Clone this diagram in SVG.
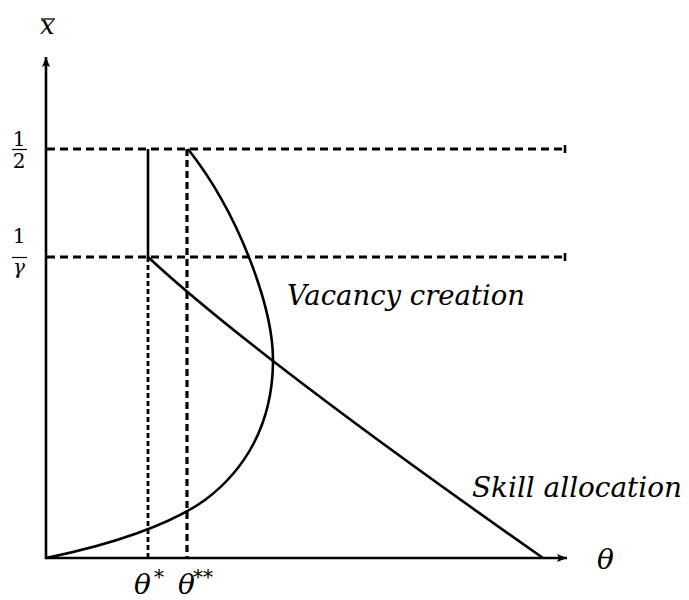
<svg xmlns="http://www.w3.org/2000/svg" width="689" height="600" viewBox="0 0 689 600">
<style>
.ax{stroke:#000;stroke-width:2.6;fill:none}
.ln{stroke:#000;stroke-width:2.6;fill:none}
.dh{stroke:#000;stroke-width:2.8;fill:none;stroke-dasharray:8,5}
.dv1{stroke:#000;stroke-width:2.8;fill:none;stroke-dasharray:5,3}
.dv2{stroke:#000;stroke-width:3.2;fill:none;stroke-dasharray:7,4}
.n{font-size:20px;text-anchor:middle}
</style>
<defs>
<marker id="arr" markerWidth="10" markerHeight="8" refX="10" refY="4" orient="auto" markerUnits="userSpaceOnUse">
<path d="M0,0 L10,4 L0,8 L2,4 Z" fill="#000"/>
</marker>
</defs>
<g id="axes">
<line class="ax" x1="46" y1="559" x2="46" y2="57" marker-end="url(#arr)"/>
<line class="ax" x1="45" y1="558" x2="567" y2="558" marker-end="url(#arr)"/>
</g>
<g id="connectors">
<line class="dh" x1="47" y1="149" x2="564" y2="149"/>
<line class="ax" x1="565" y1="145" x2="565" y2="153"/>
<line class="dh" x1="47" y1="257" x2="564" y2="257"/>
<line class="ax" x1="565" y1="253" x2="565" y2="261"/>
<line class="ln" x1="148" y1="149" x2="148" y2="257"/>
<line class="dv1" x1="148" y1="257" x2="148" y2="558"/>
<line class="dv2" x1="187" y1="149" x2="187" y2="558"/>
</g>
<g font-family="DejaVu Serif, serif" fill="#000">
<g id="skill-allocation">
<path class="ln" d="M148,257 Q254,355.6 543,558"/>
<text font-style="italic" x="472" y="497" font-size="28" textLength="210" lengthAdjust="spacingAndGlyphs">Skill allocation</text>
</g>
<g id="vacancy-creation">
<path class="ln" d="M46,558 C110,545 170,525 205,500 C245,470 272,425 273,363 C274,310 240,215 188,149"/>
<text font-style="italic" x="287" y="305" font-size="28" textLength="238" lengthAdjust="spacingAndGlyphs">Vacancy creation</text>
</g>
<g id="labels">
<text font-style="italic" x="40" y="34" font-size="26">x</text>
<line x1="41" y1="19" x2="55" y2="19" stroke="#000" stroke-width="1.3"/>
<text class="n" x="19" y="146">1</text>
<line x1="12" y1="149.5" x2="27" y2="149.5" stroke="#000" stroke-width="1.2"/>
<text class="n" x="19" y="168">2</text>
<text class="n" x="19" y="243">1</text>
<line x1="12" y1="257.5" x2="27" y2="257.5" stroke="#000" stroke-width="1.2"/>
<text font-style="italic" x="19" y="274" font-size="20" text-anchor="middle">γ</text>
<text font-style="italic" x="597" y="569" font-size="28">θ</text>
<text font-style="italic" x="134" y="594" font-size="28">θ</text>
<text class="n" x="159" y="584" font-size="18">*</text>
<text font-style="italic" x="178" y="594" font-size="28">θ</text>
<text class="n" x="203" y="584" font-size="18">**</text>
</g>
</g>
</svg>
